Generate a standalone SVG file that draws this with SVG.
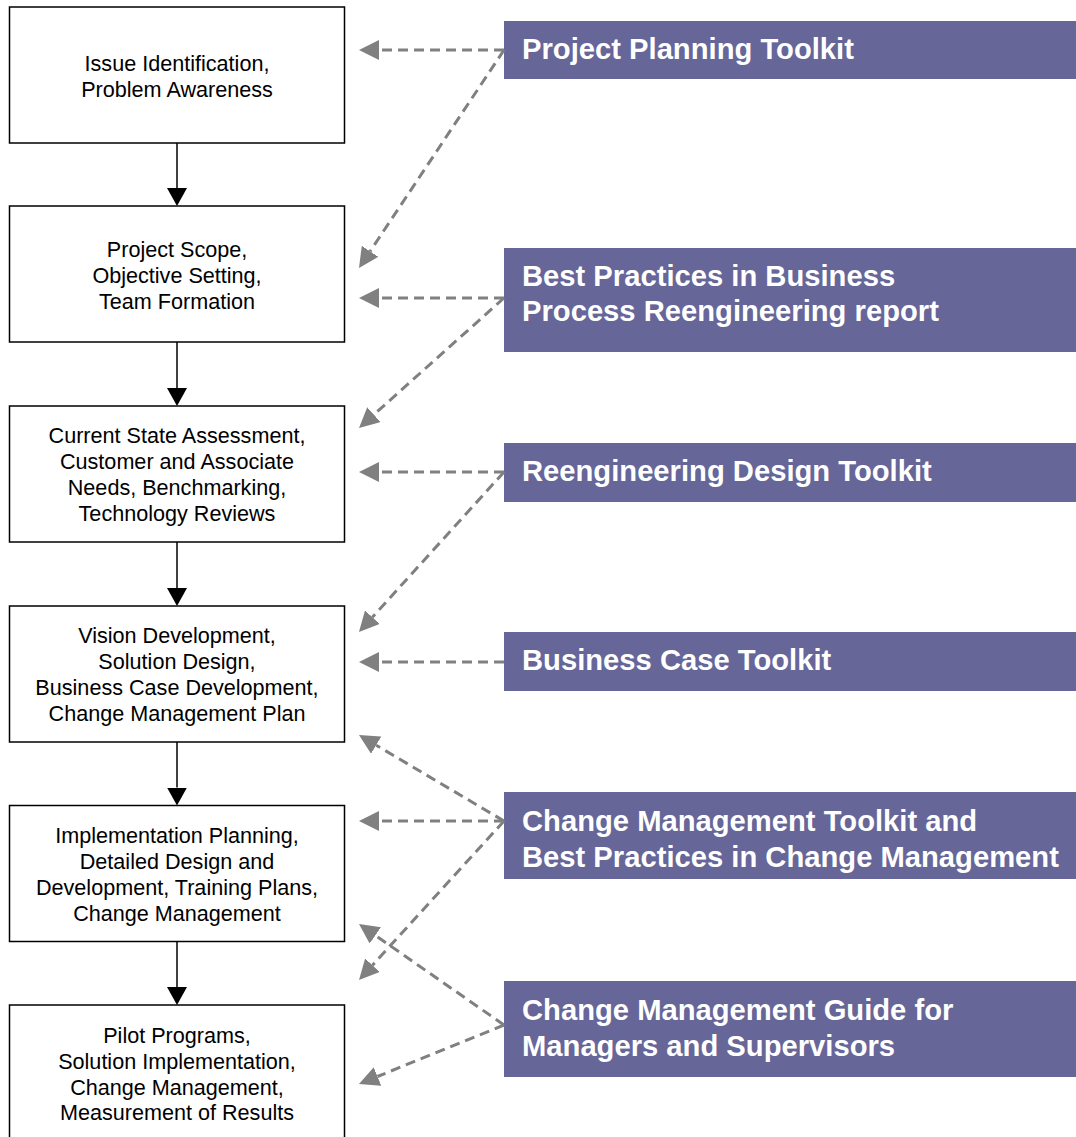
<svg xmlns="http://www.w3.org/2000/svg" width="1076" height="1137" viewBox="0 0 1076 1137">
<style>
.step rect{fill:#fff;stroke:#000;stroke-width:1.5}
.step text{font-family:"Liberation Sans",Arial,sans-serif;font-size:21.6px;fill:#000;text-anchor:middle}
.res rect{fill:#666699}
.res text{font-family:"Liberation Sans",Arial,sans-serif;font-size:29.2px;font-weight:bold;fill:#fff}
.flow{stroke:#000;stroke-width:1.5;fill:none;marker-end:url(#ab)}
.dash{stroke:#808080;stroke-width:3;stroke-dasharray:10 6;fill:none;marker-end:url(#ag)}
</style>
<defs>
<marker id="ab" markerUnits="userSpaceOnUse" markerWidth="18" markerHeight="20" viewBox="0 0 18 20" refX="0" refY="10" orient="auto">
<path d="M0,0 L18,10 L0,20 z" fill="#000"/>
</marker>
<marker id="ag" markerUnits="userSpaceOnUse" markerWidth="20" markerHeight="20" viewBox="0 0 20 20" refX="0" refY="10" orient="auto">
<path d="M0,0 L20,10 L0,20 z" fill="#808080"/>
</marker>
</defs>
<rect width="1076" height="1137" fill="#fff"/>

<g id="step1" class="step"><rect x="9.5" y="7" width="335" height="136"/>
<text x="177" y="71">Issue Identification,</text><text x="177" y="97">Problem Awareness</text></g>
<g id="step2" class="step"><rect x="9.5" y="206" width="335" height="136"/>
<text x="177" y="256.5">Project Scope,</text><text x="177" y="282.5">Objective Setting,</text><text x="177" y="308.5">Team Formation</text></g>
<g id="step3" class="step"><rect x="9.5" y="406" width="335" height="136"/>
<text x="177" y="443">Current State Assessment,</text><text x="177" y="469">Customer and Associate</text><text x="177" y="495">Needs, Benchmarking,</text><text x="177" y="521">Technology Reviews</text></g>
<g id="step4" class="step"><rect x="9.5" y="606" width="335" height="136"/>
<text x="177" y="643">Vision Development,</text><text x="177" y="669">Solution Design,</text><text x="177" y="695">Business Case Development,</text><text x="177" y="721">Change Management Plan</text></g>
<g id="step5" class="step"><rect x="9.5" y="805.5" width="335" height="136"/>
<text x="177" y="843">Implementation Planning,</text><text x="177" y="869">Detailed Design and</text><text x="177" y="895">Development, Training Plans,</text><text x="177" y="921">Change Management</text></g>
<g id="step6" class="step"><rect x="9.5" y="1005" width="335" height="140"/>
<text x="177" y="1042.5">Pilot Programs,</text><text x="177" y="1068.5">Solution Implementation,</text><text x="177" y="1094.5">Change Management,</text><text x="177" y="1120">Measurement of Results</text></g>

<g id="res1" class="res"><rect x="504" y="21" width="572" height="58"/>
<text x="522" y="58.5">Project Planning Toolkit</text></g>
<g id="res2" class="res"><rect x="504" y="248" width="572" height="104"/>
<text x="522" y="286">Best Practices in Business</text><text x="522" y="320.5">Process Reengineering report</text></g>
<g id="res3" class="res"><rect x="504" y="443" width="572" height="59"/>
<text x="522" y="481">Reengineering Design Toolkit</text></g>
<g id="res4" class="res"><rect x="504" y="632" width="572" height="59"/>
<text x="522" y="670">Business Case Toolkit</text></g>
<g id="res5" class="res"><rect x="504" y="792" width="572" height="87"/>
<text x="522" y="830.5">Change Management Toolkit and</text><text x="522" y="866.5">Best Practices in Change Management</text></g>
<g id="res6" class="res"><rect x="504" y="981" width="572" height="96"/>
<text x="522" y="1019.5">Change Management Guide for</text><text x="522" y="1055.5">Managers and Supervisors</text></g>

<g id="connectors">
<line class="flow" x1="177" y1="143" x2="177" y2="188"/>
<line class="flow" x1="177" y1="342" x2="177" y2="388"/>
<line class="flow" x1="177" y1="542" x2="177" y2="588"/>
<line class="flow" x1="177" y1="742" x2="177" y2="787.5"/>
<line class="flow" x1="177" y1="941.5" x2="177" y2="987"/>

<line class="dash" x1="504" y1="50" x2="379" y2="50"/>
<line class="dash" x1="504" y1="50" x2="370.1" y2="251.3"/>
<line class="dash" x1="504" y1="298" x2="379" y2="298"/>
<line class="dash" x1="504" y1="298" x2="373.9" y2="414.6"/>
<line class="dash" x1="504" y1="472" x2="379" y2="472"/>
<line class="dash" x1="504" y1="472" x2="372.4" y2="617.2"/>
<line class="dash" x1="504" y1="662" x2="379" y2="662"/>
<line class="dash" x1="504" y1="821" x2="376.2" y2="745.2"/>
<line class="dash" x1="504" y1="821" x2="379" y2="821"/>
<line class="dash" x1="504" y1="821" x2="372.5" y2="965.2"/>
<line class="dash" x1="504" y1="1025" x2="375.4" y2="935.4"/>
<line class="dash" x1="504" y1="1025" x2="377.5" y2="1076.5"/>
</g>
</svg>
